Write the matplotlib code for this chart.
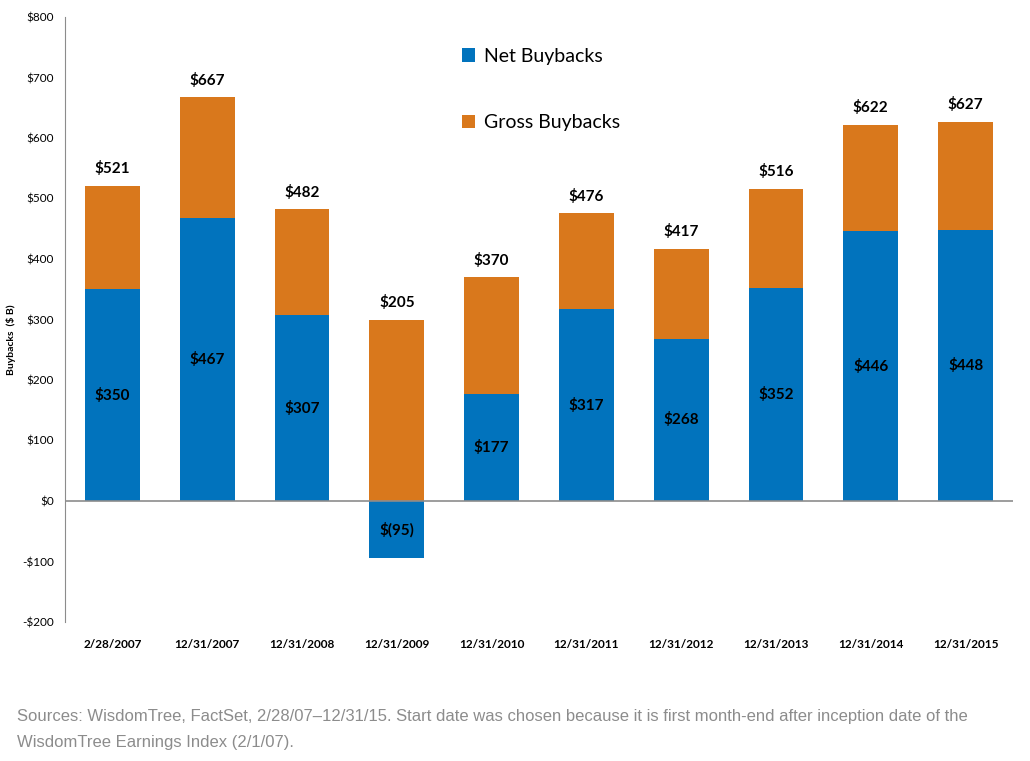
import matplotlib
matplotlib.use('Agg')
import matplotlib.pyplot as plt
import numpy as np

dates = ['2/28/2007', '12/31/2007', '12/31/2008', '12/31/2009', '12/31/2010',
         '12/31/2011', '12/31/2012', '12/31/2013', '12/31/2014', '12/31/2015']
net = [350, 467, 307, -95, 177, 317, 268, 352, 446, 448]
gross = [521, 667, 482, 205, 370, 476, 417, 516, 622, 627]

blue = '#0173BD'
orange = '#D9781C'
plt.rcParams['font.family'] = ['Lato', 'DejaVu Sans']

fig = plt.figure(figsize=(10.3, 7.61), dpi=100)
ax = fig.add_axes([65/1030, 1-622/761, 948/1030, 605/761])

x = np.arange(len(dates))
net_a = np.array(net)
gross_a = np.array(gross)
base = np.maximum(net_a, 0)
w = 0.58
ax.bar(x, net_a, w, color=blue, label='Net Buybacks', zorder=2)
ax.bar(x, gross_a - net_a, w, bottom=base, color=orange, label='Gross Buybacks', zorder=2)

# labels
for i in range(len(x)):
    top = base[i] + gross_a[i] - net_a[i]
    ax.text(x[i], top + 28, '$%d' % gross[i], ha='center', va='center',
            fontsize=11, fontweight='bold')
    s = '$%d' % net[i] if net[i] >= 0 else '$(%d)' % -net[i]
    ax.text(x[i], net[i] / 2, s, ha='center', va='center', fontsize=11, fontweight='bold')

ax.set_xlim(-0.5, 9.5)
ax.set_ylim(-200, 800)
ax.set_yticks(range(-200, 801, 100))
ax.set_yticklabels([('-$%d' % -v) if v < 0 else '$%d' % v for v in range(-200, 801, 100)],
                   fontsize=8.5)
ax.set_xticks(x)
ax.set_xticklabels(dates, fontsize=8.5, fontweight='bold')
ax.tick_params(length=0)
ax.tick_params(axis='x', pad=12)
ax.tick_params(axis='y', pad=8)
for s in ['top', 'right', 'bottom']:
    ax.spines[s].set_visible(False)
ax.spines['left'].set_color('#8c8c8c')
ax.axhline(0, color='#8c8c8c', lw=1.2, zorder=3)

fig.text(11/1030, 1-340/761, 'Buybacks  ($ B)', fontsize=7.5, fontweight='bold',
         rotation=90, ha='center', va='center')

leg = ax.legend(loc='upper left', bbox_to_anchor=(0.4, 0.978), frameon=False,
                fontsize=14, handlelength=0.7, handleheight=0.7, labelspacing=2.55,
                handletextpad=0.45)

fig.text(17/1030, 1-717/761, 'Sources: WisdomTree, FactSet, 2/28/07\u201312/31/15. Start date was chosen because it is first month-end after inception date of the',
         fontsize=12, color='#8c8c8c', family='Liberation Sans', va='center')
fig.text(17/1030, 1-743/761, 'WisdomTree Earnings Index (2/1/07).',
         fontsize=12, color='#8c8c8c', family='Liberation Sans', va='center')

fig.savefig('out.png', dpi=100)
